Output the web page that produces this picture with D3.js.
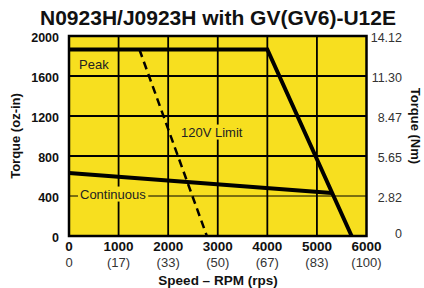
<!DOCTYPE html>
<html>
<head>
<meta charset="utf-8">
<script src="https://cdn.jsdelivr.net/npm/d3@7"></script>
<style>
  body { margin: 0; background: #fff; }
  text { font-family: "Liberation Sans", Arial, sans-serif; }
</style>
</head>
<body>
<div id="chart"></div>
<script>
const rpmTicks = [0, 1000, 2000, 3000, 4000, 5000, 6000]
const rpsLabels = ["0", "(17)", "(33)", "(50)", "(67)", "(83)", "(100)"]
const torqueTicks = [0, 400, 800, 1200, 1600, 2000]
const nmLabels = ["0", "2.82", "5.65", "8.47", "11.30", "14.12"]

// curves, [rpm, oz-in]
const peakCurve = [[0, 1865], [4000, 1865], [5700, 0]]
const continuousCurve = [[0, 630], [5300, 430]]
const limit120V = [[1420, 1865], [2780, 0]]

const width = 424
const height = 288
const yellow = "#f7df1f"

const x = d3.scaleLinear().domain([0, 6000]).range([69, 366.5])
const y = d3.scaleLinear().domain([0, 2000]).range([236, 36])

const svg = d3.select("#chart").append("svg")
    .attr("width", width)
    .attr("height", height)

svg.append("text")
    .attr("x", 218).attr("y", 25)
    .attr("text-anchor", "middle")
    .attr("font-size", 21).attr("font-weight", "bold")
    .attr("fill", "#111")
    .text("N0923H/J0923H with GV(GV6)-U12E")

svg.append("rect")
    .attr("x", x(0)).attr("y", y(2000))
    .attr("width", x(6000) - x(0)).attr("height", y(0) - y(2000))
    .attr("fill", yellow)

// grid
svg.selectAll(".vgrid")
    .data(rpmTicks.slice(1, -1))
    .enter().append("line")
    .attr("x1", d => x(d)).attr("x2", d => x(d))
    .attr("y1", y(0)).attr("y2", y(2000))
    .attr("stroke", "#000").attr("stroke-width", 1.8)

svg.selectAll(".hgrid")
    .data(torqueTicks.slice(1, -1))
    .enter().append("line")
    .attr("x1", x(0)).attr("x2", x(6000))
    .attr("y1", d => y(d)).attr("y2", d => y(d))
    .attr("stroke", "#000").attr("stroke-width", d => d == 400 ? 1 : 1.8)

// labels with yellow boxes over the grid
function boxLabel(tx, ty, str) {
    let g = svg.append("g")
    let t = g.append("text")
        .attr("x", tx).attr("y", ty)
        .attr("dy", "0.35em")
        .attr("font-size", 13).attr("fill", "#222")
        .text(str)
    let b = t.node().getBBox()
    g.insert("rect", "text")
        .attr("x", b.x - 2).attr("y", b.y)
        .attr("width", b.width + 4).attr("height", b.height)
        .attr("fill", yellow)
}
boxLabel(79, 64, "Peak")
boxLabel(80, 194, "Continuous")
boxLabel(181, 132, "120V Limit")

const line = d3.line().x(d => x(d[0])).y(d => y(d[1]))

svg.append("path").datum(limit120V)
    .attr("d", line).attr("fill", "none")
    .attr("stroke", "#000").attr("stroke-width", 2.5)
    .attr("stroke-dasharray", "8,5")

svg.append("path").datum(continuousCurve)
    .attr("d", line).attr("fill", "none")
    .attr("stroke", "#000").attr("stroke-width", 4)

svg.append("path").datum(peakCurve)
    .attr("d", line).attr("fill", "none")
    .attr("stroke", "#000").attr("stroke-width", 4)
    .attr("stroke-linejoin", "miter")

// border
svg.append("rect")
    .attr("x", x(0)).attr("y", y(2000))
    .attr("width", x(6000) - x(0)).attr("height", y(0) - y(2000))
    .attr("fill", "none").attr("stroke", "#000").attr("stroke-width", 2.5)

// left axis
svg.selectAll(".ylab")
    .data(torqueTicks)
    .enter().append("text")
    .attr("x", 59).attr("y", d => y(d) + 1.5)
    .attr("dy", "0.35em").attr("text-anchor", "end")
    .attr("font-size", 12.5).attr("font-weight", "bold").attr("fill", "#111")
    .text(d => d)

// right axis
svg.selectAll(".nmlab")
    .data(torqueTicks)
    .enter().append("text")
    .attr("x", 402).attr("y", d => d == 0 ? y(d) - 2.5 : y(d) + 1.5)
    .attr("dy", "0.35em").attr("text-anchor", "end")
    .attr("font-size", 12.5).attr("fill", "#333")
    .text((d, i) => nmLabels[i])

// bottom axis
svg.selectAll(".xlab")
    .data(rpmTicks)
    .enter().append("text")
    .attr("x", d => x(d)).attr("y", 246)
    .attr("dy", "0.35em").attr("text-anchor", "middle")
    .attr("font-size", 13.5).attr("font-weight", "bold").attr("fill", "#111")
    .text(d => d)

svg.selectAll(".rpslab")
    .data(rpmTicks)
    .enter().append("text")
    .attr("x", d => x(d)).attr("y", 262)
    .attr("dy", "0.35em").attr("text-anchor", "middle")
    .attr("font-size", 13).attr("fill", "#333")
    .text((d, i) => rpsLabels[i])

svg.append("text")
    .attr("x", 218).attr("y", 280)
    .attr("dy", "0.35em").attr("text-anchor", "middle")
    .attr("font-size", 13.5).attr("font-weight", "bold").attr("fill", "#111")
    .text("Speed \u2013 RPM (rps)")

svg.append("text")
    .attr("transform", "translate(15,136) rotate(-90)")
    .attr("dy", "0.35em").attr("text-anchor", "middle")
    .attr("font-size", 13).attr("font-weight", "bold").attr("fill", "#111")
    .text("Torque (oz-in)")

svg.append("text")
    .attr("transform", "translate(416,126) rotate(90)")
    .attr("dy", "0.35em").attr("text-anchor", "middle")
    .attr("font-size", 13).attr("font-weight", "bold").attr("fill", "#111")
    .text("Torque (Nm)")
</script>
</body>
</html>
